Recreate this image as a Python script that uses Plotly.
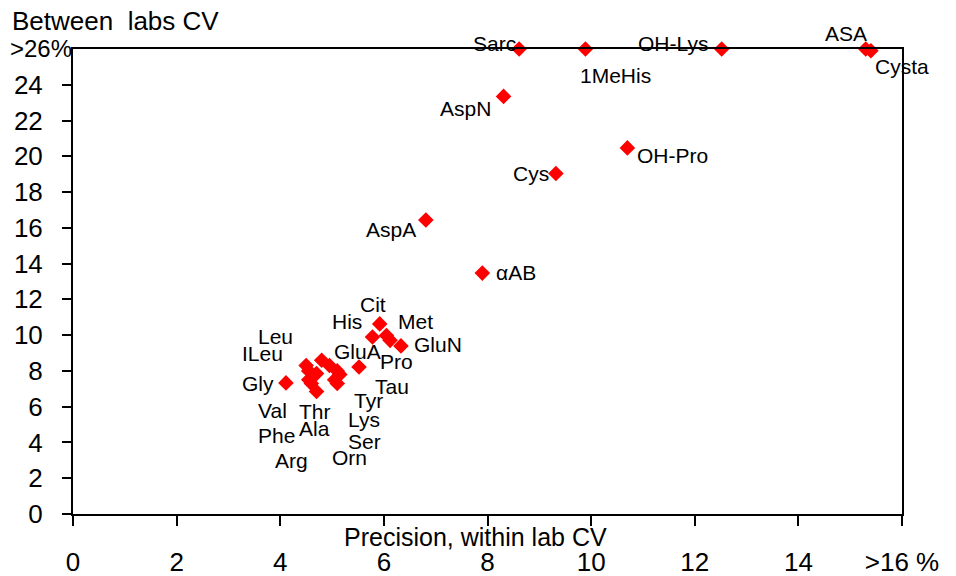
import plotly.graph_objects as go

# ---- data ----
names = ["Sarc", "1MeHis", "OH-Lys", "ASA", "Cysta", "AspN", "OH-Pro", "Cys", "AspA", "αAB",
         "Leu", "ILeu", "Gly", "Val", "Phe", "Arg", "Thr", "Ala", "Lys", "Tyr", "Tau", "Ser", "Orn",
         "GluA", "His", "Cit", "Met", "Pro", "GluN"]
within_cv = [8.61, 9.89, 12.52, 15.30, 15.40, 8.31, 10.70, 9.32, 6.81, 7.90,
             4.50, 4.55, 4.11, 4.55, 4.60, 4.70, 4.80, 4.70, 4.95, 5.10, 5.15, 5.05, 5.10,
             5.52, 5.78, 5.92, 6.05, 6.12, 6.33]
between_cv = [26.0, 26.0, 26.0, 26.0, 25.9, 23.35, 20.47, 19.04, 16.44, 13.47,
              8.30, 8.00, 7.33, 7.50, 7.30, 6.85, 8.60, 7.85, 8.30, 8.00, 7.80, 7.50, 7.30,
              8.22, 9.90, 10.63, 9.98, 9.71, 9.40]

x_tickvals = [0, 2, 4, 6, 8, 10, 12, 14, 16]
x_ticktext = ["0", "2", "4", "6", "8", "10", "12", "14", ">16 %"]
y_tickvals = [0, 2, 4, 6, 8, 10, 12, 14, 16, 18, 20, 22, 24]
y_ticktext = ["0", "2", "4", "6", "8", "10", "12", "14", "16", "18", "20", "22", "24"]

# label placement offsets (pixels: dx right, dy up) -- styling only
label_offsets = {
    "Sarc": (-25, 6), "1MeHis": (30, -26), "OH-Lys": (-49, 6), "ASA": (-20, 16),
    "Cysta": (31, -16), "AspN": (-38, -12), "OH-Pro": (45, -8), "Cys": (-25, 0),
    "AspA": (-35, -10), "αAB": (34, 1),
    "Leu": (-31, 29), "ILeu": (-46, 17), "Gly": (-28, -1), "Val": (-36, -31),
    "Phe": (-35, -52), "Arg": (-25, -69), "Thr": (-7, -51), "Ala": (-2, -55),
    "Lys": (35, -54), "Tyr": (31, -30), "Tau": (52, -12), "Ser": (30, -62),
    "Orn": (12, -74), "GluA": (-2, 15), "His": (-25, 15), "Cit": (-7, 19),
    "Met": (29, 14), "Pro": (6, -21), "GluN": (37, 1),
}

FONT = "Arial, Liberation Sans, sans-serif"

fig = go.Figure()
fig.add_trace(go.Scatter(
    x=within_cv, y=between_cv, mode="markers",
    marker=dict(symbol="diamond", size=12, color="#ff0000", line=dict(width=0)),
    cliponaxis=False, hoverinfo="text", text=names, showlegend=False,
))

annotations = []
for n, xv, yv in zip(names, within_cv, between_cv):
    dx, dy = label_offsets[n]
    annotations.append(dict(
        x=xv, y=yv, xref="x", yref="y", text=n, showarrow=False,
        xanchor="center", yanchor="middle", xshift=dx, yshift=dy,
        font=dict(family=FONT, size=21, color="black"),
    ))

# axis titles and top tick label
annotations.append(dict(
    x=0, y=1, xref="paper", yref="paper", text="Between\u00a0 labs CV", showarrow=False,
    xanchor="left", yanchor="middle", xshift=-63, yshift=28,
    font=dict(family=FONT, size=26, color="black"),
))
annotations.append(dict(
    x=0.485, y=0, xref="paper", yref="paper", text="Precision, within lab CV", showarrow=False,
    xanchor="center", yanchor="middle", yshift=-23,
    font=dict(family=FONT, size=25, color="black"),
))
annotations.append(dict(
    x=0, y=26, xref="paper", yref="y", text=">26%", showarrow=False,
    xanchor="right", yanchor="middle", xshift=1, yshift=1,
    font=dict(family=FONT, size=24, color="black"),
))

# page body has an 8px margin, so the figure is drawn 8px smaller and offset
fig.update_layout(
    width=948, height=568,
    margin=dict(l=65, r=54, t=41, b=62),
    paper_bgcolor="white", plot_bgcolor="white",
    annotations=annotations,
    font=dict(family=FONT, color="black"),
)
fig.update_xaxes(
    range=[0, 16], tickvals=x_tickvals, ticktext=x_ticktext, automargin=False,
    showgrid=False, zeroline=False, showline=True, linecolor="black", linewidth=2,
    mirror=True, ticks="outside", ticklen=10, tickwidth=2, tickcolor="black",
    tickfont=dict(family=FONT, size=26, color="black"), ticklabelstandoff=14,
)
fig.update_yaxes(
    range=[0, 26], tickvals=y_tickvals, ticktext=y_ticktext, automargin=False,
    showgrid=False, zeroline=False, showline=True, linecolor="black", linewidth=2,
    mirror=True, ticks="outside", ticklen=9, tickwidth=2, tickcolor="black",
    tickfont=dict(family=FONT, size=26, color="black"), ticklabelstandoff=14,
)

fig.write_html("out.html")
